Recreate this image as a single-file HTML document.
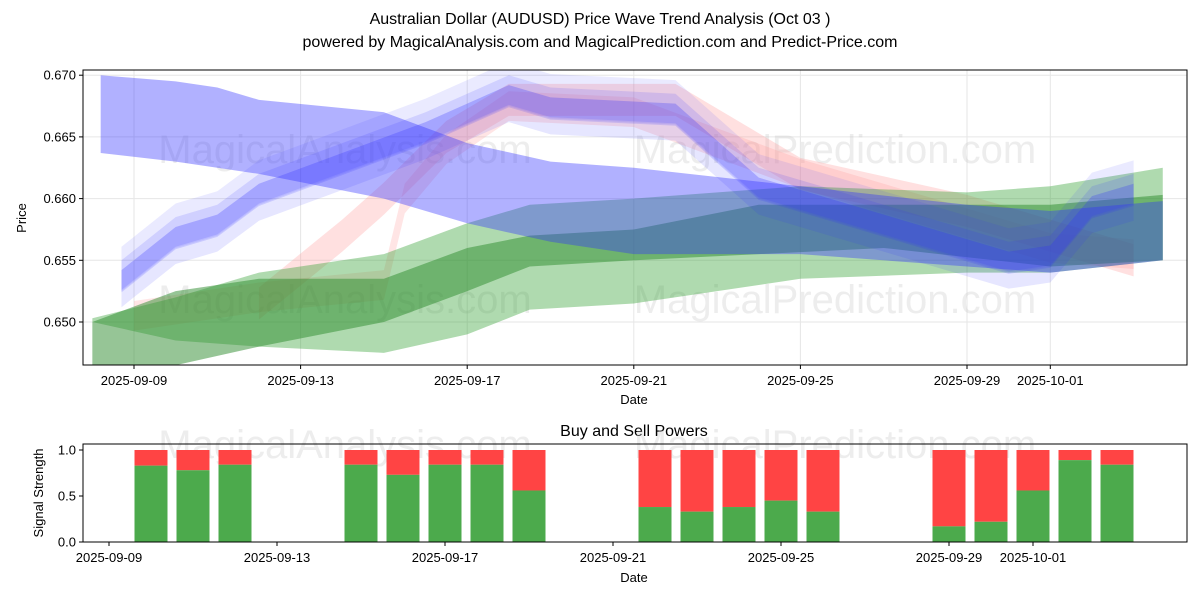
<!DOCTYPE html>
<html><head><meta charset="utf-8"><style>
body{margin:0;background:#fff;font-family:"Liberation Sans",sans-serif}
svg text{font-family:"Liberation Sans",sans-serif;fill:#000}
</style></head><body>
<svg id="c" width="1200" height="600" xmlns="http://www.w3.org/2000/svg">
<text x="600" y="24" font-size="16" text-anchor="middle">Australian Dollar (AUDUSD) Price Wave Trend Analysis (Oct 03 )</text>
<text x="600" y="47" font-size="16" text-anchor="middle">powered by MagicalAnalysis.com and MagicalPrediction.com and Predict-Price.com</text>
<g id="topg"></g><g id="botg"></g>
</svg>
<script>
// ---- data ----
const dayLabels=["2025-09-09","2025-09-13","2025-09-17","2025-09-21","2025-09-25","2025-09-29","2025-10-01"];
const dayTicks=[0,4,8,12,16,20,22];
const priceTicks=[0.650,0.655,0.660,0.665,0.670];
const blueTopDays=[-0.8,1,2,3,6,8,10,12,16,20,22,24.7];
const blueTopLo=[0.6637,0.663,0.6625,0.662,0.660,0.658,0.6565,0.6555,0.6555,0.6545,0.654,0.655];
const blueTopHi=[0.670,0.6695,0.669,0.668,0.667,0.6645,0.663,0.6625,0.661,0.6595,0.659,0.6598];
const blueWaveDays=[-0.3,1,2,3,5,7,9,10,13,15,17,19,21,22,23,24];
const blueWaveMid=[0.6535,0.657,0.658,0.6605,0.663,0.6655,0.6685,0.6675,0.667,0.661,0.659,0.657,0.655,0.6555,0.6595,0.6605];
const redADays=[3,5,6,7.5,9,13,15,16,20,22,24];
const redAMid=[0.6515,0.657,0.660,0.665,0.668,0.668,0.664,0.662,0.659,0.657,0.655];
const redBDays=[0,3,6,6.5,7.5,9,12,16,20,22,24];
const redBMid=[0.6505,0.652,0.653,0.660,0.664,0.6675,0.667,0.662,0.658,0.656,0.6555];
const greenADays=[-1,1,3,6,8,9.5,12,16,20,22,24.7];
const greenALo=[0.650,0.6485,0.648,0.6475,0.649,0.651,0.6515,0.6535,0.654,0.654,0.655];
const greenAHi=[0.6503,0.652,0.654,0.6555,0.658,0.6595,0.660,0.661,0.6605,0.661,0.6625];
const greenBDays=[-1,1,3,6,8,9.5,12,15,18,22,24.7];
const greenBLo=[0.6465,0.6465,0.648,0.650,0.6525,0.6545,0.655,0.6555,0.656,0.6545,0.655];
const greenBHi=[0.650,0.6525,0.6535,0.6535,0.656,0.657,0.6575,0.6595,0.6595,0.6595,0.6603];
const barDays=[1,2,3,6,7,8,9,10,13,14,15,16,17,20,21,22,23,24];
const buyVals=[0.83,0.78,0.84,0.84,0.73,0.84,0.84,0.56,0.38,0.33,0.38,0.45,0.33,0.17,0.22,0.56,0.89,0.84];
const sigTicks=[0,0.5,1.0];
{
const L=83,R=1187;
const X=d=>134+d*41.65;
const XB=d=>109+d*42;
const Y=p=>322-(p-0.650)*12340;
const YB=v=>542-v*92;
const NS="http://www.w3.org/2000/svg";
function mk(t,a,p){const e=document.createElementNS(NS,t);for(const k in a)e.setAttribute(k,a[k]);p.appendChild(e);return e;}
const topG=document.getElementById('topg'),botG=document.getElementById('botg');
const defs=mk('defs',{},topG);
const cp=mk('clipPath',{id:'cp'},defs);mk('rect',{x:L,y:70,width:R-L,height:295},cp);
dayTicks.forEach(d=>{mk('line',{x1:X(d),x2:X(d),y1:70,y2:365,stroke:'#e6e6e6'},topG);});
priceTicks.forEach(p=>{mk('line',{x1:L,x2:R,y1:Y(p),y2:Y(p),stroke:'#e6e6e6'},topG);});
[[345,163,'MagicalAnalysis.com'],[835,163,'MagicalPrediction.com'],[345,313,'MagicalAnalysis.com'],[835,313,'MagicalPrediction.com']].forEach(w=>{
 const e=mk('text',{x:w[0],y:w[1],'font-size':40,'text-anchor':'middle',style:'fill:#ccc;opacity:0.35'},topG);e.textContent=w[2];
 
 
});
const g=mk('g',{'clip-path':'url(#cp)'},topG);
function band(days,lo,hi,color,op,name){
  let pts=days.map((d,i)=>X(d)+','+Y(hi[i]));
  pts=pts.concat(days.map((d,i)=>X(d)+','+Y(lo[i])).reverse());
  const e=mk('polygon',{points:pts.join(' '),fill:color,'fill-opacity':op},g);
  
  
}
function midBand(days,mid,w,shift,color,op,name){
  band(days,mid.map(v=>v-w+shift),mid.map(v=>v+w+shift),color,op,name);
}
midBand(redBDays,redBMid,0.0012,0,'#ff9999',0.25,'red-wave-b');
midBand(redADays,redAMid,0.0013,0,'#ff9999',0.3,'red-wave-a');
band(greenADays,greenALo,greenAHi,'#2e9e2e',0.38,'green-band-a');
band(greenBDays,greenBLo,greenBHi,'#2e8b2e',0.5,'green-band-b');
band(blueTopDays,blueTopLo,blueTopHi,'#3333ff',0.38,'blue-band-top');
[[0.0018,0.0008,0.1],[0.0015,-0.0008,0.12],[0.0012,0.0003,0.14],[0.0009,-0.0002,0.16]].forEach((s,i)=>midBand(blueWaveDays,blueWaveMid,s[0],s[1],'#3333ff',s[2],'blue-wave-'+i));
mk('rect',{x:L,y:70,width:R-L,height:295,fill:'none',stroke:'#000'},topG);
dayTicks.forEach((d,i)=>{mk('line',{x1:X(d),x2:X(d),y1:365,y2:369,stroke:'#000'},topG);
 const t=mk('text',{x:X(d),y:385,'font-size':13,'text-anchor':'middle'},topG);t.textContent=dayLabels[i];
 
 });
priceTicks.forEach(p=>{mk('line',{x1:L-4,x2:L,y1:Y(p),y2:Y(p),stroke:'#000'},topG);
 const t=mk('text',{x:L-7,y:Y(p)+4.5,'font-size':13,'text-anchor':'end'},topG);t.textContent=p.toFixed(3);
 
 });
let t=mk('text',{x:634,y:404,'font-size':13,'text-anchor':'middle'},topG);t.textContent='Date';
t=mk('text',{x:26,y:218,'font-size':13,'text-anchor':'middle',transform:'rotate(-90 26 218)'},topG);t.textContent='Price';
t=mk('text',{x:634,y:436,'font-size':16,'text-anchor':'middle'},botG);t.textContent='Buy and Sell Powers';
[[345,458,'MagicalAnalysis.com'],[835,458,'MagicalPrediction.com']].forEach(w=>{
 const e=mk('text',{x:w[0],y:w[1],'font-size':40,'text-anchor':'middle',style:'fill:#ccc;opacity:0.35'},botG);e.textContent=w[2];});
barDays.forEach((d,i)=>{
 const x=XB(d)-16.5,v=buyVals[i];
 const r=mk('rect',{x:x,y:YB(1),width:33,height:YB(v)-YB(1),fill:'#ff4444'},botG);
 
 
 const gb=mk('rect',{x:x,y:YB(v),width:33,height:YB(0)-YB(v),fill:'#4caa4c'},botG);
 
 
});
mk('rect',{x:L,y:444,width:R-L,height:98,fill:'none',stroke:'#000'},botG);
dayTicks.forEach((d,i)=>{const xx=XB(d);mk('line',{x1:xx,x2:xx,y1:542,y2:546,stroke:'#000'},botG);
 const tt=mk('text',{x:xx,y:562,'font-size':13,'text-anchor':'middle'},botG);tt.textContent=dayLabels[i];});
sigTicks.forEach(v=>{mk('line',{x1:L-4,x2:L,y1:YB(v),y2:YB(v),stroke:'#000'},botG);
 const tt=mk('text',{x:L-7,y:YB(v)+4.5,'font-size':13,'text-anchor':'end'},botG);tt.textContent=v.toFixed(1);});
t=mk('text',{x:634,y:582,'font-size':13,'text-anchor':'middle'},botG);t.textContent='Date';
t=mk('text',{x:43,y:493,'font-size':13,'text-anchor':'middle',transform:'rotate(-90 43 493)'},botG);t.textContent='Signal Strength';
}
</script>
</body></html>
